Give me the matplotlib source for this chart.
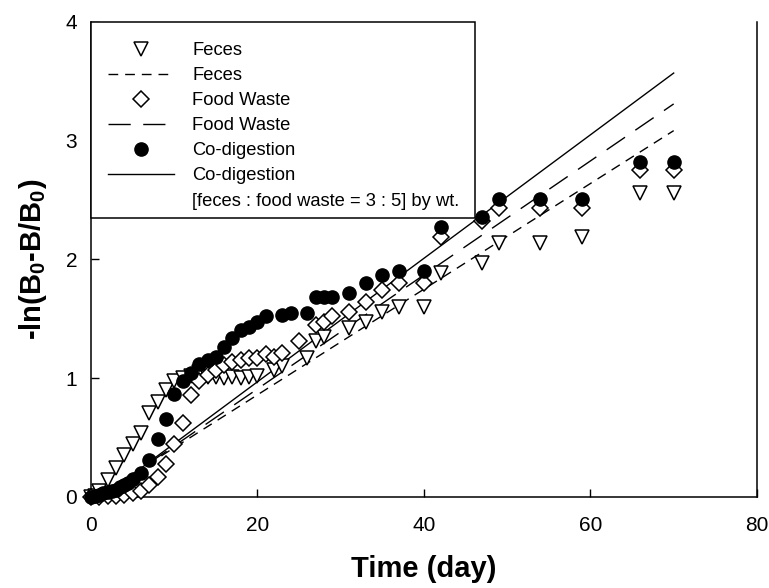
import matplotlib
matplotlib.use("Agg")
import matplotlib.pyplot as plt
from matplotlib.lines import Line2D
from matplotlib.patches import Rectangle
import numpy as np

plt.rcParams["font.family"] = ["Liberation Sans", "DejaVu Sans"]
plt.rcParams["mathtext.fontset"] = "custom"
plt.rcParams["mathtext.bf"] = "Liberation Sans:bold"
plt.rcParams["mathtext.rm"] = "Liberation Sans"

# Feces
feces_day = [0, 0.5, 1, 2, 3, 4, 5, 6, 7, 8, 9, 10, 11, 12, 13, 14, 15, 16, 17, 18, 19, 20,
             22, 23, 26, 27, 28, 31, 33, 35, 37, 40, 42, 47, 49, 54, 59, 66, 70]
feces_val = [0, 0.01, 0.05, 0.14, 0.24, 0.35, 0.45, 0.54, 0.71, 0.80, 0.90, 0.98, 1.0, 1.02,
             1.05, 1.01, 1.01, 1.0, 1.01, 1.0, 1.01, 1.02, 1.07, 1.10, 1.17, 1.31, 1.35, 1.42,
             1.47, 1.56, 1.60, 1.60, 1.89, 1.97, 2.14, 2.14, 2.19, 2.56, 2.56]

# Food waste
fw_day = [0, 1, 2, 3, 4, 5, 6, 7, 8, 9, 10, 11, 12, 13, 14, 15, 16, 17, 18, 19, 20, 21, 22,
          23, 25, 27, 28, 29, 31, 33, 35, 37, 40, 42, 47, 49, 54, 59, 66, 70]
fw_val = [0, 0.0, 0.01, 0.01, 0.02, 0.03, 0.05, 0.10, 0.17, 0.28, 0.45, 0.62, 0.86, 0.98,
          1.03, 1.07, 1.11, 1.14, 1.15, 1.17, 1.17, 1.20, 1.18, 1.21, 1.31, 1.45, 1.47, 1.52,
          1.56, 1.64, 1.74, 1.80, 1.80, 2.19, 2.32, 2.43, 2.43, 2.43, 2.75, 2.75]

# Co-digestion
co_day = [0, 0.5, 1, 1.5, 2, 2.5, 3, 3.5, 4, 4.5, 5, 6, 7, 8, 9, 10, 11, 12, 13, 14, 15, 16,
          17, 18, 19, 20, 21, 23, 24, 26, 27, 28, 29, 31, 33, 35, 37, 40, 42, 47, 49, 54, 59,
          66, 70]
co_val = [0, 0.01, 0.02, 0.03, 0.04, 0.05, 0.06, 0.08, 0.10, 0.12, 0.15, 0.20, 0.31, 0.49,
          0.66, 0.87, 0.98, 1.04, 1.12, 1.15, 1.18, 1.26, 1.34, 1.41, 1.43, 1.47, 1.52, 1.53,
          1.55, 1.55, 1.68, 1.68, 1.68, 1.72, 1.80, 1.87, 1.90, 1.90, 2.27, 2.36, 2.51, 2.51,
          2.51, 2.82, 2.82]

# first-order fits (slope, intercept)
fit_days = [0, 70]
feces_fit = (0.0445, -0.03)
fw_fit = (0.048, -0.05)
co_fit = (0.052, -0.07)

# short horizontal segment seen in the plot
seg_day = [12, 20.5]
seg_val = [1.05, 1.05]

fig = plt.figure(figsize=(7.69, 5.88), dpi=100)
ax = fig.add_axes([0.1183, 0.1548, 0.866, 0.8078])

fd = np.array(fit_days)
ax.plot(fd, feces_fit[0] * fd + feces_fit[1], color="k", lw=1.0, dashes=(7, 5))
ax.plot(fd, fw_fit[0] * fd + fw_fit[1], color="k", lw=1.0, dashes=(16, 9))
ax.plot(fd, co_fit[0] * fd + co_fit[1], color="k", lw=1.0)
ax.plot(seg_day, seg_val, color="k", lw=1.0)

ax.plot(feces_day, feces_val, "v", ms=10, mfc="white", mec="k", mew=1.1, clip_on=False, zorder=3)
ax.plot(fw_day, fw_val, "D", ms=8, mfc="white", mec="k", mew=1.1, clip_on=False, zorder=3)
ax.plot(co_day, co_val, "o", ms=9.5, mfc="k", mec="k", clip_on=False, zorder=4)

ax.set_xlim(0, 80)
ax.set_ylim(0, 4)
ax.set_xticks([0, 20, 40, 60, 80])
ax.set_yticks([0, 1, 2, 3, 4])
ax.tick_params(direction="in", length=6, width=1, labelsize=15)
ax.tick_params(axis="x", pad=14)
ax.tick_params(axis="y", pad=10)
ax.spines["top"].set_visible(False)
for s in ["left", "bottom", "right"]:
    ax.spines[s].set_linewidth(1.1)

ax.set_xlabel("Time (day)", fontsize=21, fontweight="bold", labelpad=14)
ax.set_ylabel(r"-ln(B$_\mathbf{0}$-B/B$_\mathbf{0}$)", fontsize=21, fontweight="bold", labelpad=12)

# legend box (drawn separately so the padding can be uneven like the original)
box = Rectangle((0, 0.5875), 0.5766, 0.4125, transform=ax.transAxes, facecolor="white",
                edgecolor="k", lw=1.1, zorder=5, clip_on=False)
ax.add_patch(box)

handles = [
    Line2D([], [], ls="none", marker="v", ms=10, mfc="white", mec="k", mew=1.1),
    Line2D([], [], color="k", lw=1.0, dashes=(7, 5)),
    Line2D([], [], ls="none", marker="D", ms=8, mfc="white", mec="k", mew=1.1),
    Line2D([], [], color="k", lw=1.0, dashes=(16, 9)),
    Line2D([], [], ls="none", marker="o", ms=9.5, mfc="k", mec="k"),
    Line2D([], [], color="k", lw=1.0),
    Line2D([], [], ls="none"),
]
labels = ["Feces", "Feces", "Food Waste", "Food Waste", "Co-digestion", "Co-digestion",
          "[feces : food waste = 3 : 5] by wt."]
leg = ax.legend(handles, labels, loc="upper left", bbox_to_anchor=(-0.005, 1),
                borderaxespad=0, fontsize=13.2, numpoints=1, frameon=False,
                handlelength=3.6, handletextpad=1.0, labelspacing=0.44, borderpad=1.1)
leg.set_zorder(6)

fig.savefig("out.png", dpi=100)
